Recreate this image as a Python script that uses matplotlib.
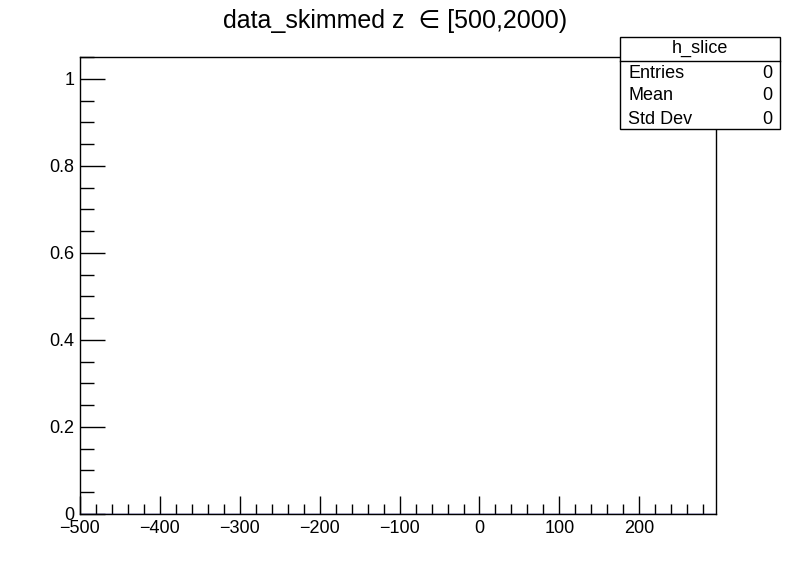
import numpy as np
import matplotlib
matplotlib.use('Agg')
import matplotlib.pyplot as plt
from matplotlib.ticker import MultipleLocator

plt.rcParams['font.family'] = ['Liberation Sans', 'DejaVu Sans']

# empty histogram, nothing passed the cut
z_values = []
hist_name = 'h_slice'
stat_names = ['Entries', 'Mean', 'Std Dev']
stat_values = [0, 0, 0]
title = 'data_skimmed z  \u2208 [500,2000)'
x_range = (-500, 296)
y_range = (0, 1.05)

fig = plt.figure(figsize=(7.96, 5.72), dpi=100)
ax = fig.add_axes([80/796., 58/572., 636/796., 457/572.])

ax.hist(z_values, bins=100, range=x_range, histtype='step', color='#000099')
ax.set_xlim(*x_range)
ax.set_ylim(*y_range)

ax.xaxis.set_minor_locator(MultipleLocator(20))
ax.yaxis.set_minor_locator(MultipleLocator(0.05))
ax.set_yticks([0, 0.2, 0.4, 0.6, 0.8, 1])
ax.set_yticklabels(['0', '0.2', '0.4', '0.6', '0.8', '1'])
ax.set_xticks(np.arange(-500, 201, 100))
ax.set_xticklabels(['\u2212500', '\u2212400', '\u2212300', '\u2212200', '\u2212100', '0', '100', '200'])

ax.tick_params(which='both', direction='in', top=False, right=False, width=1, labelsize=13)
ax.tick_params(axis='x', which='major', length=13, pad=4)
ax.tick_params(axis='x', which='minor', length=7)
ax.tick_params(axis='y', which='major', length=18, pad=4)
ax.tick_params(axis='y', which='minor', length=10)
for s in ax.spines.values():
    s.set_linewidth(1)

fig.text(395/796., 1 - 21/572., title, ha='center', va='center', fontsize=18)

# stats box
bx0, bx1 = 620/796., 780/796.
by0, by1 = 1 - 129/572., 1 - 37/572.
ysep = 1 - 61/572.
box = plt.Rectangle((bx0, by0), bx1 - bx0, by1 - by0, transform=fig.transFigure,
                    facecolor='white', edgecolor='black', lw=1, zorder=5)
fig.add_artist(box)
fig.add_artist(plt.Line2D([bx0, bx1], [ysep, ysep], transform=fig.transFigure,
                          color='black', lw=1, zorder=6))
fig.text((bx0 + bx1) / 2, 1 - 48/572., hist_name, ha='center', va='center', fontsize=13, zorder=7)
for i, (n, v) in enumerate(zip(stat_names, stat_values)):
    yy = 1 - (73 + 23*i)/572.
    fig.text(628/796., yy, n, ha='left', va='center', fontsize=13, zorder=7)
    fig.text(772/796., yy, str(v), ha='right', va='center', fontsize=13, zorder=7)

fig.savefig('out.png', dpi=100)
